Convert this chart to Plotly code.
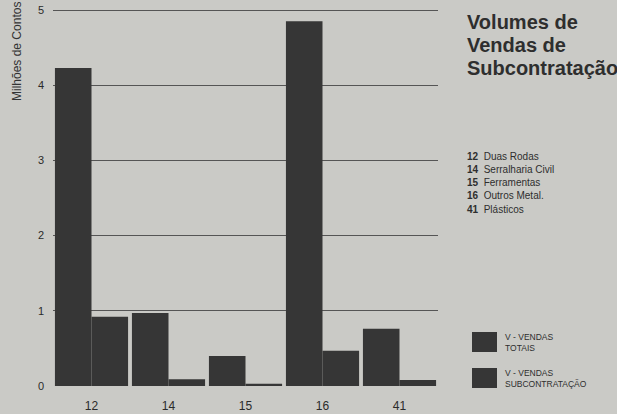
import plotly.graph_objects as go

categories = ["12", "14", "15", "16", "41"]
vendas_totais = [4.23, 0.97, 0.40, 4.85, 0.76]
vendas_subcontratacao = [0.92, 0.09, 0.03, 0.47, 0.08]
sector_names = ["Duas Rodas", "Serralharia Civil", "Ferramentas", "Outros Metal.", "Plásticos"]
y_ticks = [0, 1, 2, 3, 4, 5]
title_lines = ["Volumes de", "Vendas de", "Subcontratação"]

BG = "#cacac6"
BAR = "#363636"
TXT = "#2a2a2a"
FONT = "Liberation Sans, Arial, sans-serif"

PLOT_TOP, PLOT_BOTTOM, PLOT_LEFT, PLOT_RIGHT = 6, 386, 53, 438
Y_MAX = 5 + 4 / 75.2


def py(pixel_y):
    return (PLOT_BOTTOM - pixel_y) / (PLOT_BOTTOM - PLOT_TOP)


def px(pixel_x):
    return (pixel_x - PLOT_LEFT) / (PLOT_RIGHT - PLOT_LEFT)


fig = go.Figure()
fig.add_trace(go.Bar(x=categories, y=vendas_totais, name="V - VENDAS TOTAIS",
                     marker=dict(color=BAR, line=dict(width=0))))
fig.add_trace(go.Bar(x=categories, y=vendas_subcontratacao, name="V - VENDAS SUBCONTRATAÇÃO",
                     marker=dict(color=BAR, line=dict(width=0))))

fig.update_layout(
    width=617, height=414,
    margin=dict(l=PLOT_LEFT, r=617 - PLOT_RIGHT, t=PLOT_TOP, b=414 - PLOT_BOTTOM, pad=0),
    paper_bgcolor=BG, plot_bgcolor=BG,
    barmode="group", bargap=0.05, bargroupgap=0,
    showlegend=False,
    font=dict(family=FONT, color=TXT),
    xaxis=dict(type="category", showgrid=False, zeroline=False, showline=False,
               automargin=False, ticks="", tickfont=dict(size=12, color=TXT),
               ticklabelstandoff=11),
    yaxis=dict(range=[0, Y_MAX], tickvals=y_ticks, showgrid=True, gridcolor="#555555",
               gridwidth=1, zeroline=False, showline=False, automargin=False, ticks="",
               tickfont=dict(size=11, color=TXT), ticklabelstandoff=8),
)

# Y-axis title
fig.add_annotation(text="Milhões de Contos", textangle=-90, xref="paper", yref="paper",
                   x=px(17), y=py(52), xanchor="center", yanchor="middle", showarrow=False,
                   font=dict(size=12, color="#333333", family=FONT))

# Title block on the right (one annotation per line)
for i, line in enumerate(title_lines):
    fig.add_annotation(text=f"<b>{line}</b>", xref="paper", yref="paper",
                       x=px(465), y=py(22 + 23 * i), xanchor="left", yanchor="middle",
                       align="left", showarrow=False,
                       font=dict(size=20, color="#2e2e2e", family=FONT))

# Sector list
for i, (c, n) in enumerate(zip(categories, sector_names)):
    fig.add_annotation(text=f"<b>{c}</b>  {n}", xref="paper", yref="paper",
                       x=px(465), y=py(156 + 13.3 * i), xanchor="left", yanchor="middle",
                       align="left", showarrow=False,
                       font=dict(size=10, color="#2e2e2e", family=FONT))

# Legend swatches and labels
legend_items = [("V - VENDAS<br>TOTAIS", 342), ("V - VENDAS<br>SUBCONTRATAÇÃO", 378)]
for label, yc in legend_items:
    fig.add_shape(type="rect", xref="paper", yref="paper",
                  x0=px(472), x1=px(497), y0=py(yc + 10), y1=py(yc - 10),
                  fillcolor=BAR, line=dict(width=0))
    fig.add_annotation(text=label, xref="paper", yref="paper", x=px(503), y=py(yc),
                       xanchor="left", yanchor="middle", align="left", showarrow=False,
                       font=dict(size=8.5, color="#2e2e2e", family=FONT))

fig.write_html("out.html")
